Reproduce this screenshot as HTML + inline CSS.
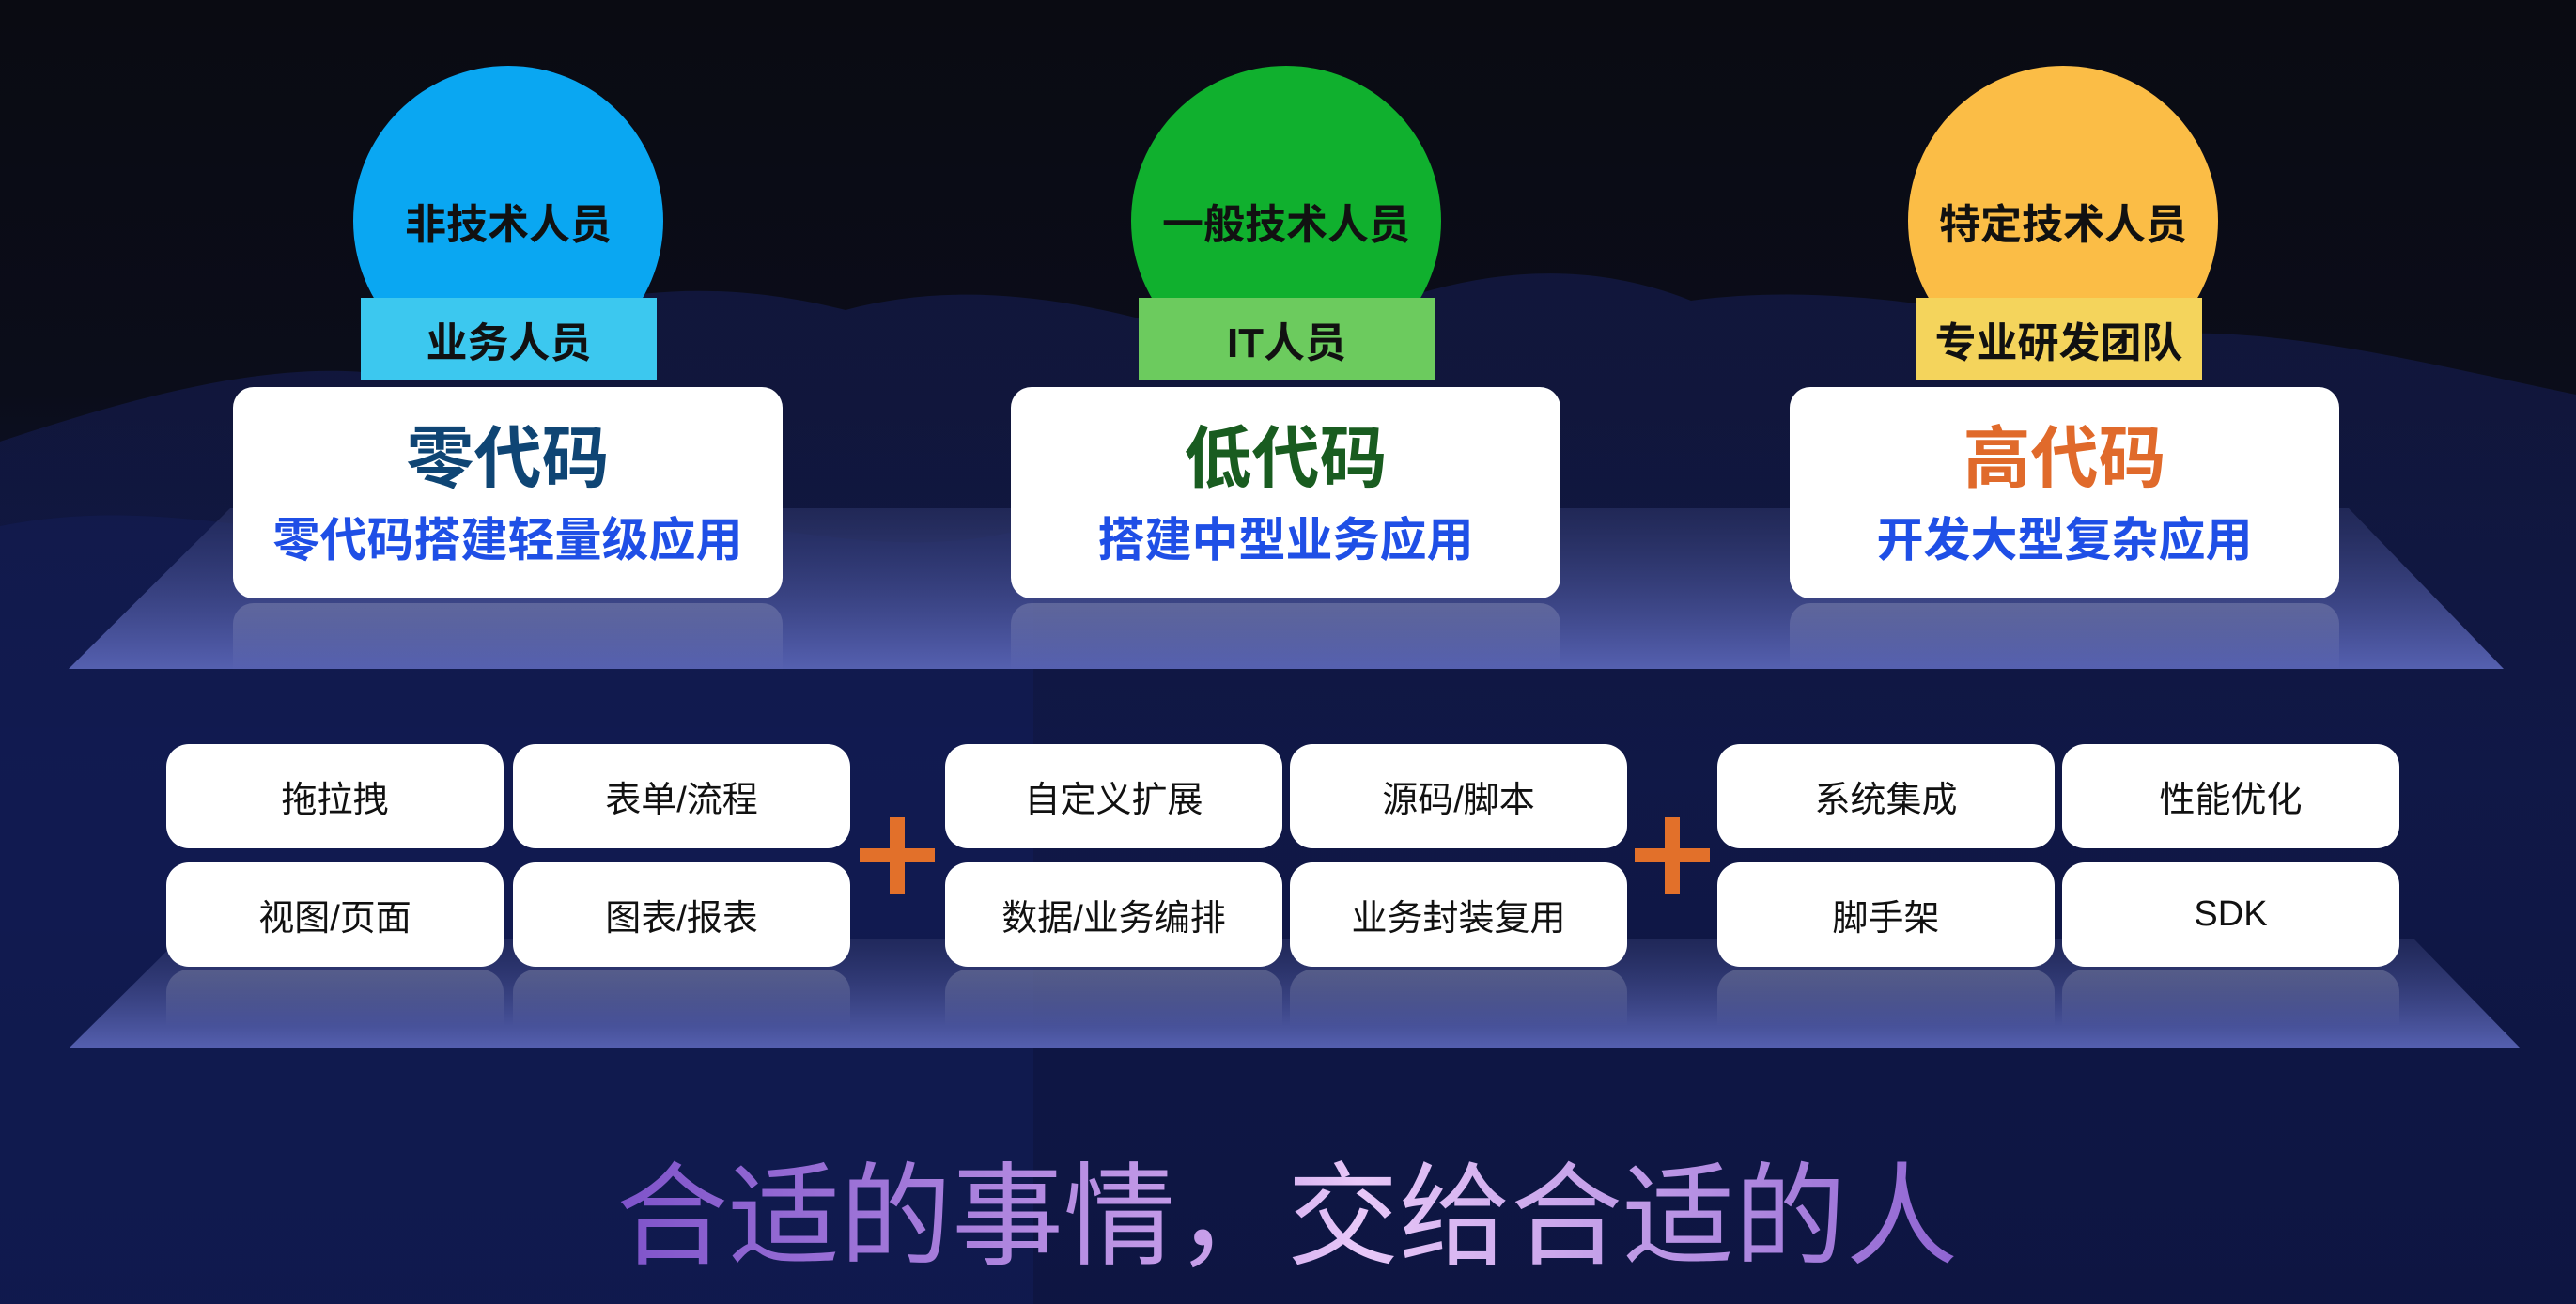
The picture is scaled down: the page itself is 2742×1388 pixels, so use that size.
<!DOCTYPE html>
<html><head><meta charset="utf-8"><style>
*{margin:0;padding:0;box-sizing:border-box}
body{width:2742px;height:1388px;overflow:hidden;position:relative;font-family:"Liberation Sans","Noto Sans CJK SC",sans-serif;
background:linear-gradient(180deg,#0a0b12 0%,#0b0d1a 30%,#0d1442 60%,#0b1238 85%,#0c1135 100%)}
.abs{position:absolute}
.circle{position:absolute;width:330px;height:330px;border-radius:50%;display:flex;align-items:center;justify-content:center;font-weight:bold;font-size:44px;color:#111;top:70px}
.lab{position:absolute;top:317px;height:87px;display:flex;align-items:center;justify-content:center;font-weight:bold;font-size:44px;color:#111}
.card{position:absolute;top:412px;width:585px;height:225px;background:#fff;border-radius:22px;text-align:center}
.card .t{font-weight:bold;font-size:72px;margin-top:32px;line-height:90px}
.card .s{font-weight:bold;font-size:50px;color:#1f4fe6;line-height:70px;margin-top:6px}
.refl{position:absolute;top:642px;width:585px;height:72px;border-radius:22px 22px 0 0;background:linear-gradient(180deg,rgba(255,255,255,.18),rgba(255,255,255,0))}
.box{position:absolute;width:359px;height:111px;background:#fff;border-radius:24px;display:flex;align-items:center;justify-content:center;font-size:38px;color:#111}
.brefl{position:absolute;top:1032px;width:359px;height:60px;border-radius:24px 24px 0 0;background:linear-gradient(180deg,rgba(255,255,255,.2),rgba(255,255,255,0))}
.plus{position:absolute;width:80px;height:82px}
.plus:before{content:"";position:absolute;left:32px;top:0;width:16px;height:82px;background:#e2702a}
.plus:after{content:"";position:absolute;left:0;top:33px;width:80px;height:15px;background:#e2702a}
</style></head><body>
<svg class="abs" style="left:0;top:0" width="2742" height="1388">
<defs>
<linearGradient id="p1" x1="0" y1="0" x2="0" y2="1"><stop offset="0" stop-color="#2b3366" stop-opacity=".6"/><stop offset="1" stop-color="#5560b0"/></linearGradient>
<linearGradient id="m" x1="0" y1="0" x2="0" y2="1"><stop offset="0" stop-color="#141b4a"/><stop offset="1" stop-color="#0e1748"/></linearGradient>
</defs>
<path d="M0 470 C150 420 300 380 420 400 C560 330 700 280 900 330 C1050 290 1200 330 1350 380 C1500 300 1650 260 1800 320 C1950 300 2100 330 2250 360 C2400 340 2550 380 2742 420 L2742 1388 L0 1388Z" fill="url(#m)" opacity=".7"/>
<path d="M0 560 C200 520 350 600 500 560 C700 500 900 620 1100 560 L1100 1388 L0 1388Z" fill="#14205e" opacity=".4"/>
<polygon points="245,541 2500,541 2665,712 73,712" fill="url(#p1)"/>
<polygon points="190,1000 2570,1000 2683,1116 73,1116" fill="url(#p1)"/>
</svg>
<div class="circle" style="left:376px;background:#0aa7f2">非技术人员</div>
<div class="circle" style="left:1204px;background:#10b02e">一般技术人员</div>
<div class="circle" style="left:2031px;background:#fbbd46">特定技术人员</div>
<div class="lab" style="left:384px;width:315px;background:#3cc8ef">业务人员</div>
<div class="lab" style="left:1212px;width:315px;background:#6ccb5e">IT人员</div>
<div class="lab" style="left:2039px;width:305px;background:#f4d45c">专业研发团队</div>
<div class="card" style="left:248px"><div class="t" style="color:#0f4574">零代码</div><div class="s">零代码搭建轻量级应用</div></div>
<div class="card" style="left:1076px"><div class="t" style="color:#195c20">低代码</div><div class="s">搭建中型业务应用</div></div>
<div class="card" style="left:1905px"><div class="t" style="color:#e06a2b">高代码</div><div class="s">开发大型复杂应用</div></div>
<div class="refl" style="left:248px"></div><div class="refl" style="left:1076px"></div><div class="refl" style="left:1905px"></div>
<div class="box" style="left:177px;top:792px">拖拉拽</div>
<div class="box" style="left:546px;top:792px">表单/流程</div>
<div class="box" style="left:1006px;top:792px">自定义扩展</div>
<div class="box" style="left:1373px;top:792px">源码/脚本</div>
<div class="box" style="left:1828px;top:792px">系统集成</div>
<div class="box" style="left:2195px;top:792px">性能优化</div>
<div class="box" style="left:177px;top:918px">视图/页面</div>
<div class="box" style="left:546px;top:918px">图表/报表</div>
<div class="box" style="left:1006px;top:918px">数据/业务编排</div>
<div class="box" style="left:1373px;top:918px">业务封装复用</div>
<div class="box" style="left:1828px;top:918px">脚手架</div>
<div class="box" style="left:2195px;top:918px">SDK</div>
<div class="brefl" style="left:177px"></div><div class="brefl" style="left:546px"></div><div class="brefl" style="left:1006px"></div><div class="brefl" style="left:1373px"></div><div class="brefl" style="left:1828px"></div><div class="brefl" style="left:2195px"></div>
<div class="plus" style="left:915px;top:870px"></div>
<div class="plus" style="left:1740px;top:870px"></div>
<div class="abs" style="left:620px;top:1205px;width:1500px;text-align:center;font-size:119px;line-height:160px;font-family:'Noto Sans CJK SC',sans-serif;font-weight:400;background:linear-gradient(90deg,#7a4fc8,#c8a0ea 45%,#e8c8f8 55%,#8a5fd0);-webkit-background-clip:text;background-clip:text;color:transparent">合适的事情，交给合适的人</div>
</body></html>
